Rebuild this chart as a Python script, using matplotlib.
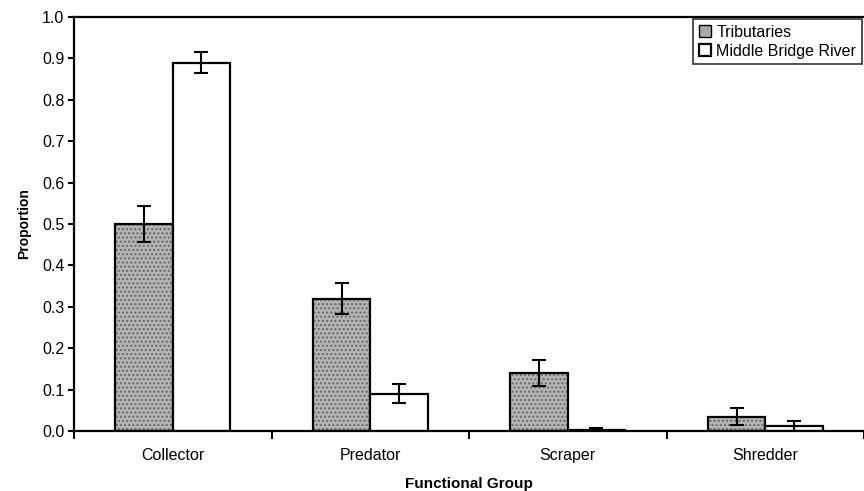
import matplotlib
matplotlib.use("Agg")
import matplotlib.pyplot as plt
from matplotlib.patches import Patch
import numpy as np

plt.rcParams["font.family"] = ["Liberation Sans", "DejaVu Sans"]

groups = ["Collector", "Predator", "Scraper", "Shredder"]
trib = [0.50, 0.32, 0.14, 0.035]
trib_err = [0.043, 0.038, 0.032, 0.02]
mbr = [0.89, 0.09, 0.002, 0.012]
mbr_err = [0.026, 0.023, 0.005, 0.012]

x = np.arange(len(groups))
w = 0.29
FS = 11.5

fig = plt.figure(figsize=(8.64, 4.91), dpi=100)
ax = fig.add_axes([74 / 864, 60 / 491, 790 / 864, 414 / 491])

# stippled grey tributary bars: fill + dotted hatch, then the black outline
ax.bar(x - w/2, trib, w, color="#b4b4b4", edgecolor="#666666", hatch="....", lw=0)
ax.bar(x - w/2, trib, w, fill=False, edgecolor="black", lw=1.6)
ax.bar(x + w/2, mbr, w, color="white", edgecolor="black", lw=1.6)
ax.errorbar(x - w/2, trib, yerr=trib_err, fmt="none", ecolor="black",
            elinewidth=1.5, capsize=5, capthick=1.5)
ax.errorbar(x + w/2, mbr, yerr=mbr_err, fmt="none", ecolor="black",
            elinewidth=1.5, capsize=5, capthick=1.5)

ax.set_xlim(-0.5, 3.45)
ax.set_ylim(0, 1.0)
yt = np.arange(0, 1.01, 0.1)
ax.set_yticks(yt)
ax.set_yticklabels([f"{v:.1f}" for v in yt], fontsize=FS)
ax.set_xticks(np.arange(-0.5, 3.6, 1.0))
ax.set_xticklabels([])
ax.set_xticks(x, minor=True)
ax.set_xticklabels(groups, minor=True, fontsize=FS)
ax.tick_params(axis="x", which="major", length=6, width=1.5, direction="out")
ax.tick_params(axis="x", which="minor", length=0, pad=12)
ax.tick_params(axis="y", length=4, width=1.5, direction="out", pad=3)

for s in ["left", "bottom", "top"]:
    ax.spines[s].set_linewidth(1.6)
ax.spines["right"].set_visible(False)

ax.set_ylabel("Proportion", fontsize=10, fontweight="bold", labelpad=8)
ax.set_xlabel("Functional Group", fontsize=11, fontweight="bold", labelpad=10)

handles = [Patch(facecolor="#a8a8a8", edgecolor="black", lw=1.0, label="Tributaries"),
           Patch(facecolor="white", edgecolor="black", lw=1.6, label="Middle Bridge River")]
leg = ax.legend(handles=handles, loc="upper left", bbox_to_anchor=(619 / 790, 0.995),
                fontsize=FS, frameon=True, fancybox=False, edgecolor="black",
                handlelength=0.8, handleheight=0.8, handletextpad=0.3, borderpad=0.35,
                labelspacing=0.25, borderaxespad=0)
leg.get_frame().set_linewidth(1.2)

fig.savefig("out.png", dpi=100)
